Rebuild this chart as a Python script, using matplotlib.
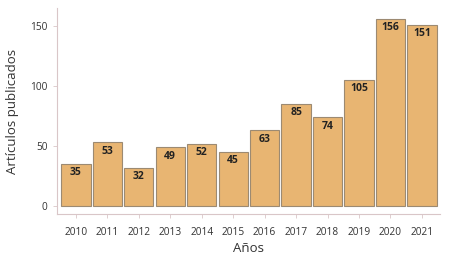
import numpy as np
import matplotlib.pyplot as plt

years = ['2010', '2011', '2012', '2013', '2014', '2015', '2016', '2017', '2018', '2019', '2020', '2021']
articulos = [35, 53, 32, 49, 52, 45, 63, 85, 74, 105, 156, 151]
yticks = [0, 50, 100, 150]

plt.rcParams['font.family'] = ['Open Sans', 'DejaVu Sans']

fig = plt.figure(figsize=(4.53, 2.56), dpi=100)
ax = fig.add_axes([0.126, 0.164, 0.845, 0.805])

x = np.arange(len(years))
ax.bar(x, articulos, width=0.93, color='#E8B572', edgecolor='#9C8A72', linewidth=0.8)

# etiquetas de valores dentro de las barras
for xi, v in zip(x, articulos):
    ax.text(xi, v - 7.5, str(v), ha='center', va='center', fontsize=7.5,
            fontweight='bold', color='#222222')

ax.set_xlim(-0.6, 11.57)
ax.set_ylim(-6.7, 165)
ax.set_xticks(x)
ax.set_xticklabels(years)
ax.set_yticks(yticks)

for side in ['top', 'right']:
    ax.spines[side].set_visible(False)
for side in ['left', 'bottom']:
    ax.spines[side].set_color('#D9C6C8')
    ax.spines[side].set_linewidth(0.8)

ax.tick_params(axis='both', colors='#D9C6C8', labelcolor='#333333', labelsize=7.3, length=3, width=0.6)
ax.tick_params(axis='x', pad=6)
ax.tick_params(axis='y', pad=4)

ax.set_ylabel('Artículos publicados', fontsize=9.5, color='#333333', labelpad=8)
ax.set_xlabel('Años', fontsize=9.5, color='#333333', labelpad=3)

fig.savefig('out.png', dpi=100)
